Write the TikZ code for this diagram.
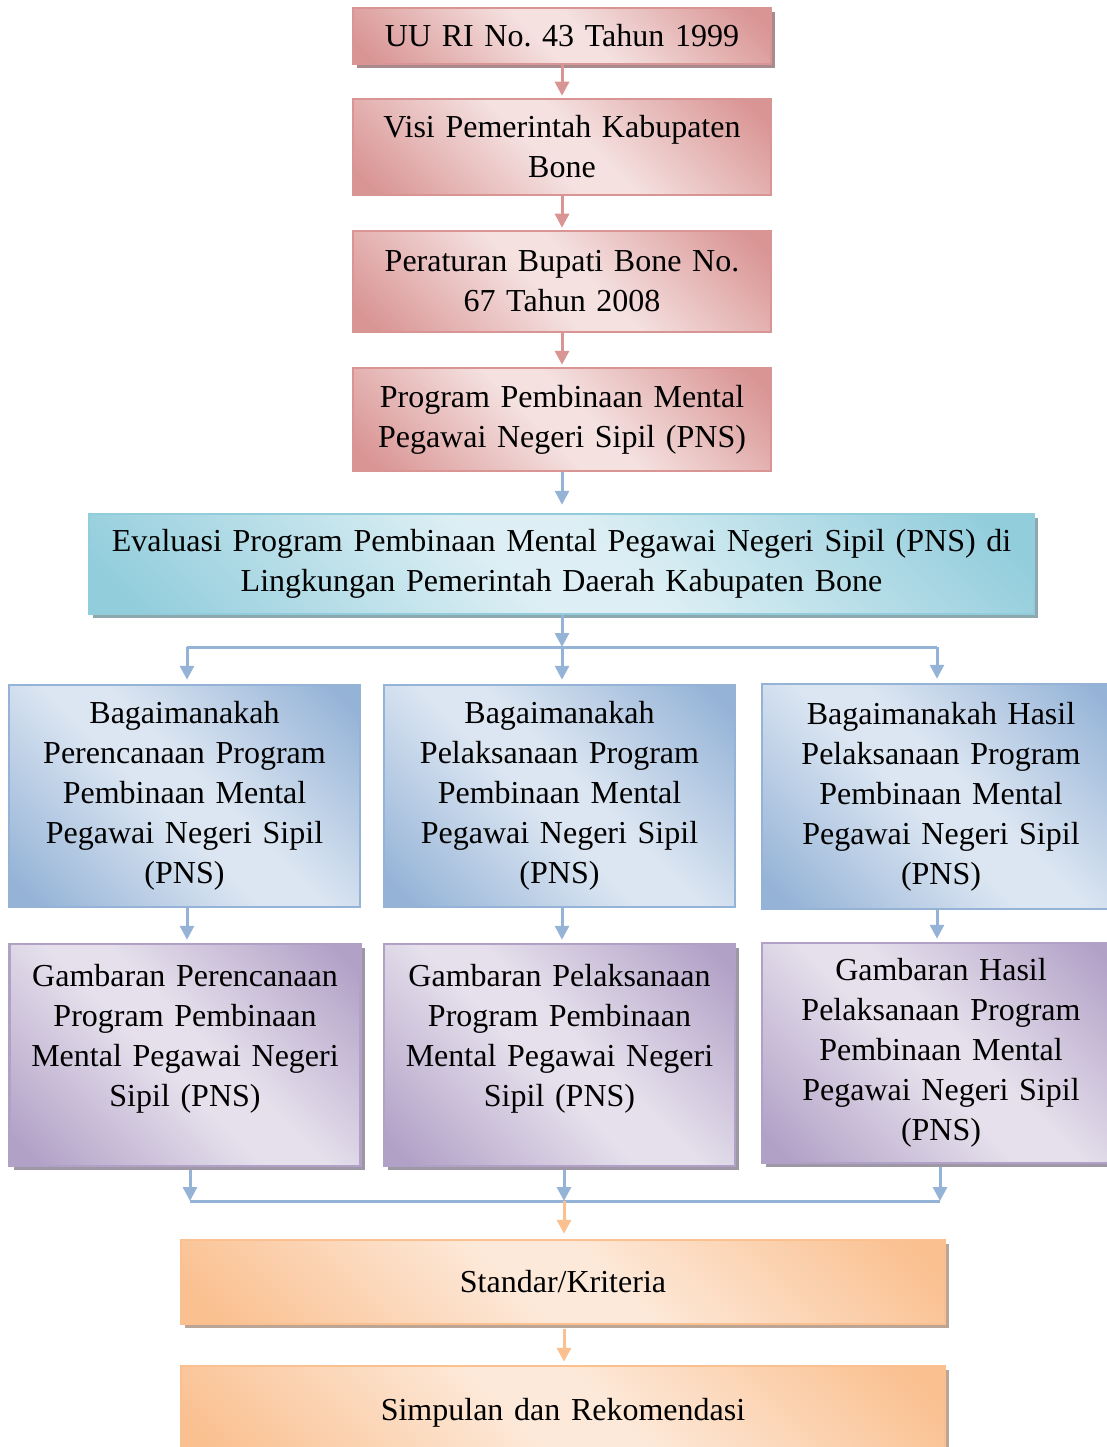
\documentclass[tikz,border=0pt]{standalone}
\usepackage{fontspec}
\setmainfont{Liberation Serif}
\usetikzlibrary{arrows.meta,shadows}
\frenchspacing
\definecolor{pinkD}{HTML}{D99594}
\definecolor{pinkL}{HTML}{F4E1E0}
\definecolor{pinkS}{HTML}{A88B8C}
\definecolor{tealD}{HTML}{92CDDC}
\definecolor{tealL}{HTML}{DDEFF4}
\definecolor{tealS}{HTML}{8DA8AE}
\definecolor{blueD}{HTML}{95B3D7}
\definecolor{blueL}{HTML}{DCE6F2}
\definecolor{purpD}{HTML}{B2A1C7}
\definecolor{purpL}{HTML}{E5E0EC}
\definecolor{purpS}{HTML}{9E97A6}
\definecolor{oranD}{HTML}{FAC090}
\definecolor{oranL}{HTML}{FDE9D9}
\definecolor{oranS}{HTML}{BBA597}
\pgfdeclarehorizontalshading{pinkdiag}{100bp}{color(0bp)=(pinkD); color(18bp)=(pinkD); color(46bp)=(pinkL); color(54bp)=(pinkL); color(82bp)=(pinkD); color(100bp)=(pinkD)}
\pgfdeclarehorizontalshading{tealdiag}{100bp}{color(0bp)=(tealD); color(18bp)=(tealD); color(46bp)=(tealL); color(54bp)=(tealL); color(82bp)=(tealD); color(100bp)=(tealD)}
\pgfdeclarehorizontalshading{bluediag}{100bp}{color(0bp)=(blueD); color(18bp)=(blueD); color(46bp)=(blueL); color(54bp)=(blueL); color(82bp)=(blueD); color(100bp)=(blueD)}
\pgfdeclarehorizontalshading{purpdiag}{100bp}{color(0bp)=(purpD); color(18bp)=(purpD); color(46bp)=(purpL); color(54bp)=(purpL); color(82bp)=(purpD); color(100bp)=(purpD)}
\pgfdeclarehorizontalshading{orandiag}{100bp}{color(0bp)=(oranD); color(18bp)=(oranD); color(46bp)=(oranL); color(54bp)=(oranL); color(82bp)=(oranD); color(100bp)=(oranD)}
\tikzset{
  basebox/.style={rectangle, inner sep=0pt, align=center, line width=2.5pt,
    font=\fontsize{32}{40}\selectfont, shading angle=45},
  pinkbox/.style={basebox, shade, shading=pinkdiag, draw=pinkD, minimum width=418pt, text width=400pt},
  pinkboxsh/.style={pinkbox, general shadow={fill=pinkS, shadow xshift=4pt, shadow yshift=-4pt}},
  tealbox/.style={basebox, shade, shading=tealdiag, draw=tealD, minimum width=945pt, minimum height=100pt, text width=925pt,
    general shadow={fill=tealS, shadow xshift=4pt, shadow yshift=-4pt}},
  bluebox/.style={basebox, shade, shading=bluediag, draw=blueD, minimum width=351pt, minimum height=222pt, text width=340pt},
  purpbox/.style={basebox, shade, shading=purpdiag, draw=purpD, minimum width=351pt, minimum height=222pt, text width=340pt,
    general shadow={fill=purpS, shadow xshift=4pt, shadow yshift=-4pt}},
  oranbox/.style={basebox, shade, shading=orandiag, draw=oranD, minimum width=764pt, text width=740pt,
    general shadow={fill=oranS, shadow xshift=4pt, shadow yshift=-4pt}},
  tipx/.tip={Triangle[width=14pt,length=14pt]},
  pinkarr/.style={draw=pinkD, line width=3pt, -tipx, shorten >=2pt},
  bluearr/.style={draw=blueD, line width=3pt, -tipx},
  blueline/.style={draw=blueD, line width=3pt},
  oranarr/.style={draw=oranD, line width=3pt, -tipx, shorten >=3pt},
}
\begin{document}
\begin{tikzpicture}[x=1pt,y=-1pt]
\useasboundingbox (0,0) rectangle (1107,1447);
\begin{scope}
\clip (0,0) rectangle (1107,1447);
% top chain
\node[pinkboxsh, minimum height=56pt] (p1) at (562,36) {UU RI No. 43 Tahun 1999};
\node[pinkbox, minimum height=96pt] (p2) at (562,147) {Visi Pemerintah Kabupaten\\Bone};
\node[pinkbox, minimum height=101pt] (p3) at (562,281.5) {Peraturan Bupati Bone No.\\67 Tahun 2008};
\node[pinkbox, minimum height=103pt] (p4) at (562,419.5) {Program Pembinaan Mental\\Pegawai Negeri Sipil (PNS)};
\node[tealbox] (e) at (561.5,564) {Evaluasi Program Pembinaan Mental Pegawai Negeri Sipil (PNS) di\\Lingkungan Pemerintah Daerah Kabupaten Bone};
% question row
\node[bluebox] (b1) at (184.5,796) {Bagaimanakah\\Perencanaan Program\\Pembinaan Mental\\Pegawai Negeri Sipil\\(PNS)};
\node[bluebox] (b2) at (559.5,796) {Bagaimanakah\\Pelaksanaan Program\\Pembinaan Mental\\Pegawai Negeri Sipil\\(PNS)};
\node[bluebox, minimum width=358pt, minimum height=225pt] (b3) at (941,796.5) {Bagaimanakah Hasil\\Pelaksanaan Program\\Pembinaan Mental\\Pegawai Negeri Sipil\\(PNS)};
% description row
\node[purpbox] (g1) at (185,1055) {Gambaran Perencanaan\\Program Pembinaan\\Mental Pegawai Negeri\\Sipil (PNS)\\\mbox{}};
\node[purpbox] (g2) at (559.5,1055) {Gambaran Pelaksanaan\\Program Pembinaan\\Mental Pegawai Negeri\\Sipil (PNS)\\\mbox{}};
\node[purpbox, minimum width=358pt, minimum height=220pt] (g3) at (941,1053) {Gambaran Hasil\\Pelaksanaan Program\\Pembinaan Mental\\Pegawai Negeri Sipil\\(PNS)};
% bottom
\node[oranbox, minimum height=84pt] (s) at (563,1282) {Standar/Kriteria};
\node[oranbox, minimum height=94pt] (r) at (563,1413) {Simpulan dan Rekomendasi};
% connectors top
\draw[pinkarr] (p1) -- (p2);
\draw[pinkarr] (p2) -- (p3);
\draw[pinkarr] (p3) -- (p4);
\draw[bluearr, shorten >=8pt] (p4.south) -- (p4.south |- e.north);
% split
\coordinate (sp) at (562,647);
\coordinate (spL) at (187,647);
\coordinate (spR) at (937,647);
\draw[bluearr] (e.south -| sp) -- (sp);
\draw[blueline] (spL) -- (spR);
\draw[bluearr, shorten >=4pt] (spL) -- (spL |- b1.north);
\draw[bluearr, shorten >=4pt] (sp) -- (sp |- b2.north);
\draw[bluearr, shorten >=4pt] (spR) -- (spR |- b3.north);
\draw[bluearr, shorten >=3pt] (b1.south -| spL) -- (spL |- g1.north);
\draw[bluearr, shorten >=3pt] (b2.south -| sp) -- (sp |- g2.north);
\draw[bluearr, shorten >=3pt] (b3.south -| spR) -- (spR |- g3.north);
% merge
\coordinate (mL) at (190,1201);
\coordinate (mM) at (564,1201);
\coordinate (mR) at (940,1201);
\draw[bluearr] ([yshift=-3pt]g1.south -| mL) -- (mL);
\draw[bluearr] ([yshift=-3pt]g2.south -| mM) -- (mM);
\draw[bluearr] ([yshift=-3pt]g3.south -| mR) -- (mR);
\draw[blueline] (mL) -- (mR);
\draw[oranarr, shorten >=5pt] (mM) -- (mM |- s.north);
\draw[oranarr] ([yshift=-4pt]s.south -| mM) -- (mM |- r.north);
\end{scope}
\end{tikzpicture}
\end{document}
